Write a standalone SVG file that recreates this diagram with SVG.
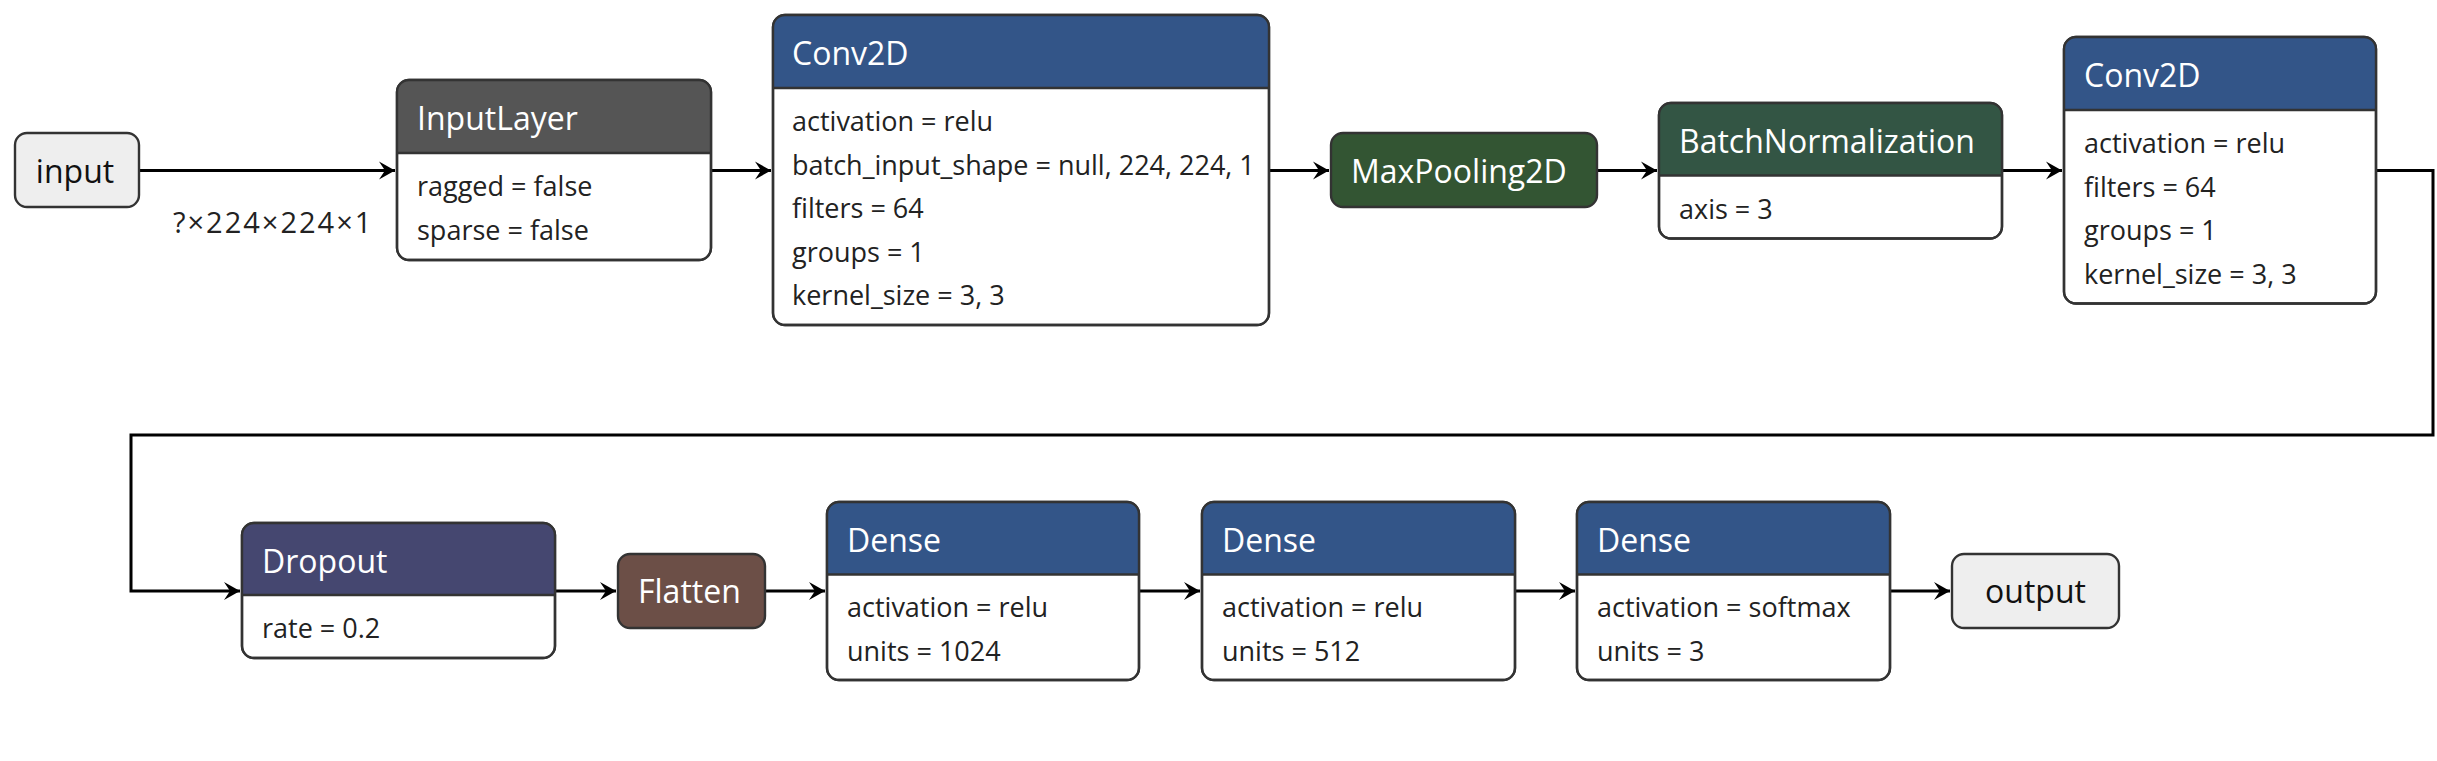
<svg xmlns="http://www.w3.org/2000/svg" width="2437" height="761" viewBox="0 0 2437 761">
<defs>
<style>
.bg{fill:#ffffff}
.box{fill:#ffffff;stroke:#333333;stroke-width:2.4}
.outline{fill:none;stroke:#333333;stroke-width:2.4}
.io{fill:#eeeeee;stroke:#333333;stroke-width:2.4}
.div{stroke:#333333;stroke-width:2.4}
.t{font-family:"Open Sans","Liberation Sans",sans-serif;font-size:32px;fill:#ffffff}
.a{font-family:"Open Sans","Liberation Sans",sans-serif;font-size:27px;fill:#222222}
.iot{font-family:"Open Sans","Liberation Sans",sans-serif;font-size:32px;fill:#111111;text-anchor:middle}
.lbl{font-family:"Open Sans","Liberation Sans",sans-serif;font-size:29px;fill:#222222;letter-spacing:2px}
.edge{fill:none;stroke:#000000;stroke-width:3}
.layer{fill:#335588}
.data{fill:#555555}
.pool{fill:#335533}
.norm{fill:#335544}
.drop{fill:#454770}
.shape{fill:#6c4f47}
</style>
<marker id="arr" viewBox="-17 -10 18 20" refX="0" refY="0" markerWidth="18" markerHeight="20" markerUnits="userSpaceOnUse" orient="auto">
<path d="M0,0 L-16,-9 L-10,0 L-16,9 Z" fill="#000000"/>
</marker>
</defs>
<rect class="bg" x="0" y="0" width="2437" height="761"/>

<g id="connectors">
<path class="edge" d="M139,170.5 H395" marker-end="url(#arr)"/>
<text class="lbl" x="173" y="233">?×224×224×1</text>
<path class="edge" d="M711,170.5 H771" marker-end="url(#arr)"/>
<path class="edge" d="M1269,170.5 H1329" marker-end="url(#arr)"/>
<path class="edge" d="M1597,170.5 H1657" marker-end="url(#arr)"/>
<path class="edge" d="M2002,170.5 H2062" marker-end="url(#arr)"/>
<path class="edge" d="M2376,170.5 H2433 V435 H131 V591 H240" marker-end="url(#arr)"/>
<path class="edge" d="M555,591 H616" marker-end="url(#arr)"/>
<path class="edge" d="M765,591 H825" marker-end="url(#arr)"/>
<path class="edge" d="M1139,591 H1200" marker-end="url(#arr)"/>
<path class="edge" d="M1515,591 H1575" marker-end="url(#arr)"/>
<path class="edge" d="M1890,591 H1950" marker-end="url(#arr)"/>
</g>

<g id="node-input">
<rect class="io" x="15" y="133" width="124" height="74" rx="12"/>
<text class="iot" x="75" y="183">input</text>
</g>

<g id="node-inputlayer">
<rect class="box" x="397" y="80" width="314" height="180" rx="12"/>
<path class="data" d="M397,153 V92 A12,12 0 0 1 409,80 H699 A12,12 0 0 1 711,92 V153 Z"/>
<line class="div" x1="397" y1="153" x2="711" y2="153"/>
<rect class="outline" x="397" y="80" width="314" height="180" rx="12"/>
<text class="t" x="417" y="130">InputLayer</text>
<text class="a" x="417" y="196">ragged = false</text>
<text class="a" x="417" y="239.5">sparse = false</text>
</g>

<g id="node-conv2d-1">
<rect class="box" x="773" y="15" width="496" height="310" rx="12"/>
<path class="layer" d="M773,88 V27 A12,12 0 0 1 785,15 H1257 A12,12 0 0 1 1269,27 V88 Z"/>
<line class="div" x1="773" y1="88" x2="1269" y2="88"/>
<rect class="outline" x="773" y="15" width="496" height="310" rx="12"/>
<text class="t" x="792" y="65">Conv2D</text>
<text class="a" x="792" y="131">activation = relu</text>
<text class="a" x="792" y="174.5">batch_input_shape = null, 224, 224, 1</text>
<text class="a" x="792" y="218">filters = 64</text>
<text class="a" x="792" y="261.5">groups = 1</text>
<text class="a" x="792" y="305">kernel_size = 3, 3</text>
</g>

<g id="node-maxpooling2d">
<rect class="pool" x="1331" y="133" width="266" height="74" rx="12" stroke="#333333" stroke-width="2.4"/>
<text class="t" x="1351" y="183">MaxPooling2D</text>
</g>

<g id="node-batchnormalization">
<rect class="box" x="1659" y="103" width="343" height="135.5" rx="12"/>
<path class="norm" d="M1659,175.5 V115 A12,12 0 0 1 1671,103 H1990 A12,12 0 0 1 2002,115 V175.5 Z"/>
<line class="div" x1="1659" y1="175.5" x2="2002" y2="175.5"/>
<rect class="outline" x="1659" y="103" width="343" height="135.5" rx="12"/>
<text class="t" x="1679" y="153">BatchNormalization</text>
<text class="a" x="1679" y="218.5">axis = 3</text>
</g>

<g id="node-conv2d-2">
<rect class="box" x="2064" y="37" width="312" height="266.5" rx="12"/>
<path class="layer" d="M2064,110 V49 A12,12 0 0 1 2076,37 H2364 A12,12 0 0 1 2376,49 V110 Z"/>
<line class="div" x1="2064" y1="110" x2="2376" y2="110"/>
<rect class="outline" x="2064" y="37" width="312" height="266.5" rx="12"/>
<text class="t" x="2084" y="87">Conv2D</text>
<text class="a" x="2084" y="153">activation = relu</text>
<text class="a" x="2084" y="196.5">filters = 64</text>
<text class="a" x="2084" y="240">groups = 1</text>
<text class="a" x="2084" y="283.5">kernel_size = 3, 3</text>
</g>

<g id="node-dropout">
<rect class="box" x="242" y="523" width="313" height="135" rx="12"/>
<path class="drop" d="M242,595 V535 A12,12 0 0 1 254,523 H543 A12,12 0 0 1 555,535 V595 Z"/>
<line class="div" x1="242" y1="595" x2="555" y2="595"/>
<rect class="outline" x="242" y="523" width="313" height="135" rx="12"/>
<text class="t" x="262" y="573">Dropout</text>
<text class="a" x="262" y="638">rate = 0.2</text>
</g>

<g id="node-flatten">
<rect class="shape" x="618" y="554" width="147" height="74" rx="12" stroke="#333333" stroke-width="2.4"/>
<text class="t" x="638" y="603">Flatten</text>
</g>

<g id="node-dense-1">
<rect class="box" x="827" y="502" width="312" height="178" rx="12"/>
<path class="layer" d="M827,574.5 V514 A12,12 0 0 1 839,502 H1127 A12,12 0 0 1 1139,514 V574.5 Z"/>
<line class="div" x1="827" y1="574.5" x2="1139" y2="574.5"/>
<rect class="outline" x="827" y="502" width="312" height="178" rx="12"/>
<text class="t" x="847" y="552">Dense</text>
<text class="a" x="847" y="617">activation = relu</text>
<text class="a" x="847" y="661">units = 1024</text>
</g>

<g id="node-dense-2">
<rect class="box" x="1202" y="502" width="313" height="178" rx="12"/>
<path class="layer" d="M1202,574.5 V514 A12,12 0 0 1 1214,502 H1503 A12,12 0 0 1 1515,514 V574.5 Z"/>
<line class="div" x1="1202" y1="574.5" x2="1515" y2="574.5"/>
<rect class="outline" x="1202" y="502" width="313" height="178" rx="12"/>
<text class="t" x="1222" y="552">Dense</text>
<text class="a" x="1222" y="617">activation = relu</text>
<text class="a" x="1222" y="661">units = 512</text>
</g>

<g id="node-dense-3">
<rect class="box" x="1577" y="502" width="313" height="178" rx="12"/>
<path class="layer" d="M1577,574.5 V514 A12,12 0 0 1 1589,502 H1878 A12,12 0 0 1 1890,514 V574.5 Z"/>
<line class="div" x1="1577" y1="574.5" x2="1890" y2="574.5"/>
<rect class="outline" x="1577" y="502" width="313" height="178" rx="12"/>
<text class="t" x="1597" y="552">Dense</text>
<text class="a" x="1597" y="617">activation = softmax</text>
<text class="a" x="1597" y="661">units = 3</text>
</g>

<g id="node-output">
<rect class="io" x="1952" y="554" width="167" height="74" rx="12"/>
<text class="iot" x="2035.5" y="603">output</text>
</g>
</svg>
